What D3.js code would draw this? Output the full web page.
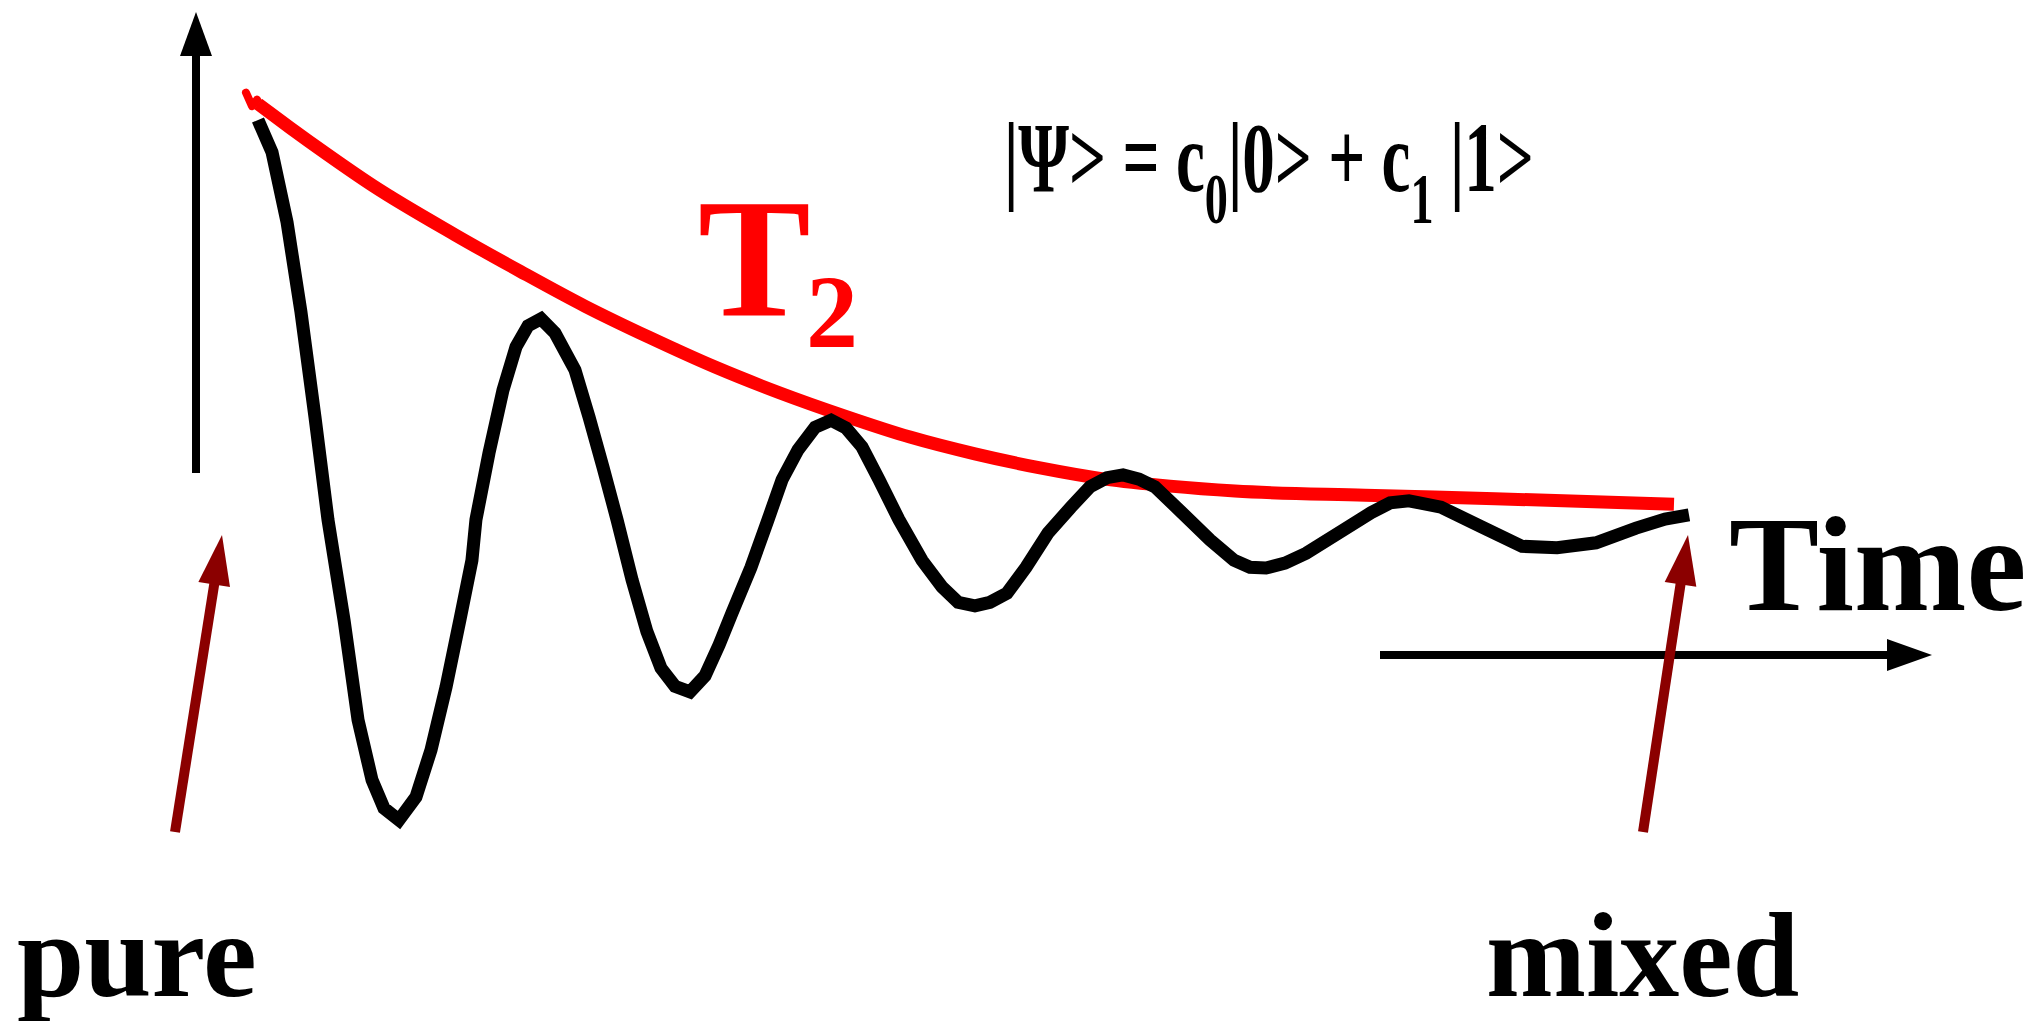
<!DOCTYPE html>
<html><head><meta charset="utf-8">
<script src="https://cdn.jsdelivr.net/npm/d3@7"></script>
<style>html,body{margin:0;padding:0;background:#fff;overflow:hidden}</style>
</head><body>
<svg id="chart" width="2039" height="1021"></svg>
<script>
// ---- data ----
// damped oscillation (time in arbitrary units, signal 0..1)
const waveTime = [0.000,0.098,0.203,0.300,0.398,0.489,0.601,0.699,0.797,0.880,0.985,1.104,1.209,1.314,1.412,1.495,1.523,1.614,1.712,1.803,1.887,1.978,2.075,2.215,2.313,2.411,2.509,2.614,2.718,2.816,2.914,3.019,3.124,3.222,3.313,3.445,3.564,3.662,3.774,3.893,4.005,4.109,4.221,4.340,4.479,4.640,4.780,4.892,5.010,5.115,5.234,5.367,5.521,5.681,5.814,5.933,6.045,6.157,6.268,6.457,6.653,6.820,6.932,7.044,7.177,7.324,7.582,7.778,7.911,8.043,8.267,8.547,8.833,9.078,9.350,9.630,9.833,10.000];
const waveSignal = [1.000,0.954,0.854,0.726,0.576,0.429,0.286,0.143,0.057,0.017,0.000,0.033,0.100,0.190,0.287,0.371,0.429,0.524,0.614,0.676,0.706,0.716,0.696,0.643,0.576,0.504,0.429,0.343,0.269,0.217,0.191,0.183,0.206,0.250,0.296,0.361,0.429,0.486,0.529,0.561,0.571,0.560,0.533,0.486,0.429,0.371,0.333,0.311,0.306,0.311,0.324,0.361,0.410,0.447,0.476,0.489,0.493,0.487,0.476,0.439,0.400,0.371,0.361,0.360,0.367,0.381,0.414,0.439,0.453,0.456,0.447,0.419,0.391,0.389,0.396,0.417,0.430,0.436];
// T2 decay envelope (main curve) and the small hook where it starts
const envTime = [0.000,0.224,0.469,0.804,1.377,1.831,2.285,2.739,3.194,3.648,4.102,4.556,5.010,5.465,5.919,6.373,6.827,7.736,8.644,9.895];
const envSignal = [1.023,0.989,0.953,0.906,0.836,0.784,0.734,0.689,0.647,0.610,0.577,0.547,0.523,0.503,0.487,0.477,0.470,0.464,0.459,0.451];
const hookTime = [-0.084,-0.042,-0.007];
const hookSignal = [1.039,1.020,1.029];
// labels
const envLabel = ["T", "2"];
const axisLabel = "Time";
const stateLabels = ["pure", "mixed"];
const equationParts = ["|\u03A8> = c", "0", "|0> + c", "1", " |1>"];

// ---- drawing ----
const svg = d3.select("#chart");
const W = 2039, H = 1021;
svg.append("rect").attr("width", W).attr("height", H).attr("fill", "#fff");

const x = d3.scaleLinear().domain([0, 10]).range([258, 1689]);
const y = d3.scaleLinear().domain([0, 1]).range([820, 120]);

const FONT = "'Liberation Serif','Times New Roman',Times,serif";

function arrow(g, x1, y1, x2, y2, w, hl, hw, color) {
  const dx = x2 - x1, dy = y2 - y1, L = Math.hypot(dx, dy);
  const ux = dx / L, uy = dy / L, px = -uy, py = ux;
  const bx = x2 - ux * hl, by = y2 - uy * hl;
  g.append("line").attr("x1", x1).attr("y1", y1)
    .attr("x2", bx + ux * 2).attr("y2", by + uy * 2)
    .attr("stroke", color).attr("stroke-width", w);
  g.append("path")
    .attr("d", `M${x2},${y2}L${bx + px * hw},${by + py * hw}L${bx - px * hw},${by - py * hw}Z`)
    .attr("fill", color);
}

const ann = svg.append("g");
// vertical axis arrow
arrow(ann, 196, 473, 196, 12, 8, 44, 16, "#000");
// time axis arrow
arrow(ann, 1380, 655, 1932, 655, 8, 45, 16, "#000");
// dark red pointer arrows
arrow(ann, 175, 832, 222, 535, 10, 50, 16, "#8B0000");
arrow(ann, 1643, 832, 1688, 535, 10, 50, 16, "#8B0000");

// envelope
const envData = envTime.map((t, i) => ({t, s: envSignal[i]}));
svg.append("path").datum(envData)
  .attr("d", d3.line().x(d => x(d.t)).y(d => y(d.s)).curve(d3.curveMonotoneX))
  .attr("fill", "none").attr("stroke", "#FF0000").attr("stroke-width", 13)
  .attr("stroke-linecap", "butt");
const hookData = hookTime.map((t, i) => ({t, s: hookSignal[i]}));
svg.append("path").datum(hookData)
  .attr("d", d3.line().x(d => x(d.t)).y(d => y(d.s)))
  .attr("fill", "none").attr("stroke", "#FF0000").attr("stroke-width", 8)
  .attr("stroke-linecap", "round").attr("stroke-linejoin", "round");

// oscillation
const waveData = waveTime.map((t, i) => ({t, s: waveSignal[i]}));
svg.append("path").datum(waveData)
  .attr("d", d3.line().x(d => x(d.t)).y(d => y(d.s)).curve(d3.curveLinear))
  .attr("fill", "none").attr("stroke", "#000").attr("stroke-width", 13)
  .attr("stroke-linejoin", "miter").attr("stroke-miterlimit", 4).attr("stroke-linecap", "butt");

// T2 label
const t2 = svg.append("text").attr("x", 698).attr("y", 315)
  .attr("font-family", FONT).attr("font-weight", "bold").attr("fill", "#FF0000");
t2.append("tspan").attr("font-size", 169).text(envLabel[0]);
t2.append("tspan").attr("font-size", 104).attr("x", 806).attr("y", 347).text(envLabel[1]);

// Time label
svg.append("text").attr("x", 1729).attr("y", 610)
  .attr("font-family", FONT).attr("font-weight", "bold").attr("font-size", 135)
  .attr("fill", "#000").text(axisLabel);

// pure / mixed
svg.append("text").attr("x", 17).attr("y", 996)
  .attr("font-family", FONT).attr("font-weight", "bold").attr("font-size", 121)
  .attr("fill", "#000").text(stateLabels[0]);
svg.append("text").attr("x", 1486).attr("y", 996)
  .attr("font-family", FONT).attr("font-weight", "bold").attr("font-size", 120)
  .attr("fill", "#000").text(stateLabels[1]);

// equation
const eqX = 1004, eqRight = 1534, eqBase = 191;
const eqG = svg.append("g");
const eq = eqG.append("text").attr("x", eqX).attr("y", eqBase)
  .attr("font-family", FONT).attr("font-weight", "bold").attr("fill", "#000")
  .attr("font-size", 100).attr("xml:space", "preserve").style("white-space", "pre");
equationParts.forEach((p, i) => {
  const sub = i % 2 === 1;
  eq.append("tspan").attr("font-size", sub ? 71 : 100)
    .attr("dy", i === 0 ? 0 : (sub ? 32 : -32)).text(p);
});
const bb = eq.node().getBBox();
const sx = (eqRight - eqX) / bb.width;
eqG.attr("transform", `translate(${eqX},0) scale(${sx},1) translate(${-bb.x},0)`);
</script>
</body></html>
